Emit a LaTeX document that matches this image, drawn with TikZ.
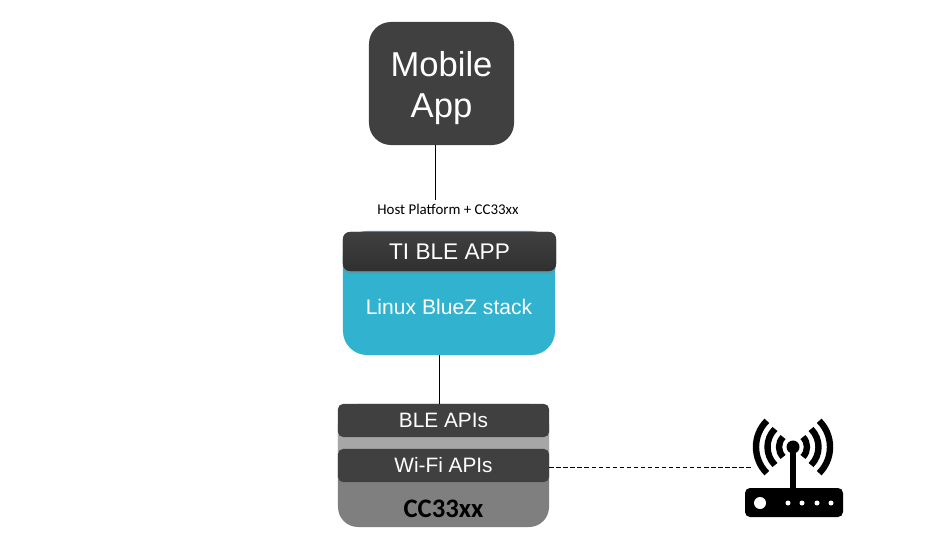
\documentclass[tikz,border=0pt]{standalone}
\usepackage{fontspec}
\setmainfont{Liberation Sans}
\newfontfamily\carlito{Carlito}
\usetikzlibrary{shadows}
\definecolor{boxdark}{HTML}{404040}
\definecolor{bluezblue}{HTML}{31B2CF}
\definecolor{chipgray}{HTML}{7F7F7F}
\definecolor{chiplight}{HTML}{A6A6A6}
\tikzset{
    darkbox/.style={fill=boxdark,text=white,inner sep=0pt,rounded corners=0.125cm},
    apibox/.style={darkbox,minimum width=5.275cm,minimum height=0.825cm,font=\fontsize{14.8}{18}\selectfont},
    conn/.style={line width=0.65pt},
    radiowave/.style={line width=0.16cm,black}
}
\begin{document}
\begin{tikzpicture}[x=0.025cm,y=-0.025cm]
        \useasboundingbox (0,0) rectangle (952,536);

        %Mobile App
        \node[darkbox,rounded corners=0.55cm,minimum width=3.625cm,minimum height=3.075cm] (MOBILE) at (441.5,83.5) {};
        \node[text=white,inner sep=0pt,align=center,font=\fontsize{24.6}{29.2}\selectfont] (MOBILETXT) at (441.5,88) {Mobile\\App};
        \node[font=\carlito\fontsize{10.6}{12}\selectfont,inner sep=0pt] (HOST) at (448,209) {Host Platform + CC33xx};

        %Host Platform
        \node[fill=bluezblue,text=white,inner sep=0pt,rounded corners=0.6cm,minimum width=5.3cm,minimum height=3.1cm] (BLUEZ) at (449,293) {};
        \node[text=white,font=\fontsize{15}{18}\selectfont,inner sep=0pt] (BLUEZTXT) at (449,307) {Linux BlueZ stack};
        \node[darkbox,rounded corners=0.175cm,top color=boxdark,bottom color=boxdark!75!black,minimum width=5.325cm,minimum height=0.975cm,text=white,font=\fontsize{16.1}{19}\selectfont,
            drop shadow={shadow xshift=0pt,shadow yshift=-2pt,opacity=0.4}] (TIAPP) at (449.5,251.5) {TI BLE APP};

        %CC33xx
        \node[fill=chipgray,inner sep=0pt,rounded corners=0.5cm,minimum width=5.275cm,minimum height=3.075cm] (CHIP) at (443.5,465.5) {};
        \fill[chiplight] (338,430) rectangle (549,455);
        \node[apibox] (BLEAPI) at (443.5,420.5) {BLE APIs};
        \node[apibox] (WIFIAPI) at (443.5,465.5) {Wi-Fi APIs};
        \node[font=\carlito\bfseries\fontsize{19}{22}\selectfont,inner sep=0pt] (CHIPTXT) at (443.5,509) {CC33xx};

        %Router
        \coordinate (ROUTER) at (752,467.5);
        \fill[black,rounded corners=0.125cm] (745,488) rectangle (843,517);
        \fill[white] (760,503) circle (6);
        \foreach \xpos in {788,802,817,831}
            \fill[white] (\xpos,503) circle (2.5);
        \draw[line width=0.14cm,black] (793,447) -- (793,488);
        \fill[black] (793,447) circle (6.5);
        \foreach \rad in {14,25.5,37} {
            \draw[radiowave] (793,447) ++(135:\rad) arc[start angle=135,end angle=225,radius=\rad];
            \draw[radiowave] (793,447) ++(45:\rad) arc[start angle=45,end angle=-45,radius=\rad];
        }

        \draw[conn,shorten >=2.5pt] (MOBILE.south -| 435.5,0) -- (HOST.north -| 435.5,0);
        \draw[conn] (BLUEZ.south -| 439.5,0) -- (BLEAPI.north -| 439.5,0);
        \draw[conn,dash pattern=on 3.2pt off 1.8pt] (WIFIAPI.east |- ROUTER) -- (ROUTER);
    \end{tikzpicture}
\end{document}
